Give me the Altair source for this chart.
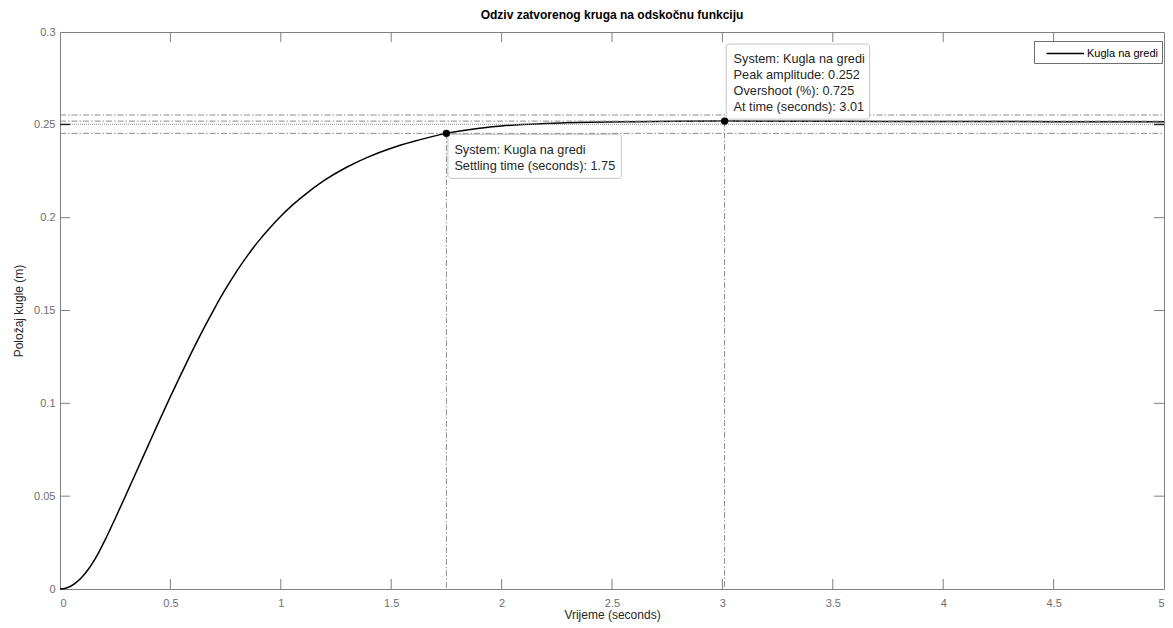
import altair as alt
import pandas as pd

# ---------------- data ----------------
time_s = [0, 0.025, 0.05, 0.075, 0.1, 0.125, 0.15, 0.175, 0.2, 0.25, 0.3, 0.35, 0.4,
          0.45, 0.5, 0.55, 0.6, 0.65, 0.7, 0.75, 0.8, 0.85, 0.9, 0.95, 1.0, 1.05, 1.1,
          1.2, 1.3, 1.4, 1.5, 1.6, 1.75, 1.9, 2.0, 2.2, 2.4, 2.6, 2.8, 3.01, 3.5, 4.0,
          4.5, 5.0]
position_m = [0, 0.0004, 0.0016, 0.0037, 0.0065, 0.0101, 0.0145, 0.0196, 0.0254,
              0.0380, 0.0510, 0.0642, 0.0775, 0.0907, 0.1036, 0.1161, 0.1284, 0.1401,
              0.1512, 0.1616, 0.1711, 0.1797, 0.1875, 0.1945, 0.2008, 0.2065, 0.2115,
              0.2203, 0.2273, 0.2329, 0.2374, 0.2410, 0.2454, 0.2482, 0.2494, 0.2507,
              0.2514, 0.2517, 0.2519, 0.2520, 0.2519, 0.2518, 0.2517, 0.2516]
series_name = "Kugla na gredi"

settling_time = 1.75
settling_value = 0.2454
peak_time = 3.01
peak_value = 0.2520
final_value = 0.2503
upper_bound = 0.2553
lower_bound = 0.2454

x_min, x_max = 0, 5
y_min, y_max = 0, 0.3
x_ticks = [0.5, 1, 1.5, 2, 2.5, 3, 3.5, 4, 4.5]
y_ticks = [0.05, 0.1, 0.15, 0.2, 0.25]
x_axis_values = [0, 0.5, 1, 1.5, 2, 2.5, 3, 3.5, 4, 4.5, 5]
y_axis_values = [0, 0.05, 0.1, 0.15, 0.2, 0.25, 0.3]

tip_settling = ["System: Kugla na gredi", "Settling time (seconds): 1.75"]
tip_peak = ["System: Kugla na gredi", "Peak amplitude: 0.252",
            "Overshoot (%): 0.725", "At time (seconds): 3.01"]

title_text = "Odziv zatvorenog kruga na odskočnu funkciju"
x_title = "Vrijeme (seconds)"
y_title = "Položaj kugle (m)"

# ---------------- tables ----------------
curve = pd.DataFrame({"t": time_s, "v": position_m, "series": series_name})
hlines = pd.DataFrame({"t": [x_min] * 3, "t2": [x_max] * 3,
                       "v": [upper_bound, peak_value, lower_bound]})
fline = pd.DataFrame({"t": [x_min], "t2": [x_max], "v": [final_value]})
vlines = pd.DataFrame({"t": [settling_time, peak_time], "v": [settling_value, peak_value],
                       "v2": [y_min, y_min]})
ss_l = pd.DataFrame({"t": [x_min], "v": [final_value]})
ss_r = pd.DataFrame({"t": [x_max], "v": [final_value]})
tip1 = pd.DataFrame({"t": [settling_time], "v": [settling_value], "label": ["\n".join(tip_settling)]})
tip2 = pd.DataFrame({"t": [peak_time], "v": [peak_value], "label": ["\n".join(tip_peak)]})
xt_b = pd.DataFrame({"t": x_ticks, "v": [y_min] * len(x_ticks)})
xt_t = pd.DataFrame({"t": x_ticks, "v": [y_max] * len(x_ticks)})
yt_l = pd.DataFrame({"t": [x_min] * len(y_ticks), "v": y_ticks})
yt_r = pd.DataFrame({"t": [x_max] * len(y_ticks), "v": y_ticks})

FONT = "Liberation Sans"
GRAY = "#8c8c8c"
AX = "#808080"
DASHDOT = [6, 2, 1.5, 2]
xs = alt.Scale(domain=[x_min, x_max], nice=False, zero=False)
ys = alt.Scale(domain=[y_min, y_max], nice=False, zero=False)
x_axis = alt.Axis(values=x_axis_values, format=".1~f", ticks=False, domain=False,
                  grid=False, labelPadding=8, titlePadding=1)
y_axis = alt.Axis(values=y_axis_values, format=".2~f", ticks=False, domain=False,
                  grid=False, labelPadding=5, titlePadding=8)


def X(f="t"):
    return alt.X(f"{f}:Q", scale=xs, axis=x_axis, title=x_title)


def Y(f="v"):
    return alt.Y(f"{f}:Q", scale=ys, axis=y_axis, title=y_title)


main = alt.Chart(curve).mark_line(strokeWidth=1.5, interpolate="monotone").encode(
    x=X(), y=Y(),
    color=alt.Color("series:N", scale=alt.Scale(domain=[series_name], range=["#000000"]),
                    legend=alt.Legend(title=None, orient="none", legendX=974, legendY=9,
                                      symbolType="M0,0H5", symbolSize=225,
                                      symbolStrokeWidth=1.3, labelFontSize=11,
                                      labelColor="#000000", labelFont=FONT,
                                      strokeColor="#6e6e6e", fillColor="#ffffff",
                                      padding=4, labelOffset=32, offset=0)),
)

h_dash = alt.Chart(hlines).mark_rule(color=GRAY, strokeWidth=1, strokeDash=DASHDOT).encode(
    x=X(), x2="t2:Q", y=Y())
h_dot = alt.Chart(fline).mark_rule(color=GRAY, strokeWidth=1, strokeDash=[1, 1]).encode(
    x=X(), x2="t2:Q", y=Y())
v_dash = alt.Chart(vlines).mark_rule(color=GRAY, strokeWidth=1, strokeDash=DASHDOT).encode(
    x=X(), y=Y(), y2="v2:Q")
ss_left = alt.Chart(ss_l).mark_rule(color="#000000", strokeWidth=1, x2Offset=10).encode(
    x=X(), x2="t:Q", y=Y())
ss_right = alt.Chart(ss_r).mark_rule(color="#000000", strokeWidth=1, x2Offset=-10).encode(
    x=X(), x2="t:Q", y=Y())

box1 = alt.Chart(tip1).mark_rect(fill="#ffffff", fillOpacity=0.95, stroke="#c4c4c4", strokeWidth=1,
                                 cornerRadius=3, xOffset=1.5, x2Offset=175, yOffset=1, y2Offset=45).encode(
    x=X(), x2="t:Q", y=Y(), y2="v:Q")
box2 = alt.Chart(tip2).mark_rect(fill="#ffffff", fillOpacity=0.95, stroke="#c4c4c4", strokeWidth=1,
                                 cornerRadius=3, xOffset=1.6, x2Offset=145, yOffset=-2, y2Offset=-77).encode(
    x=X(), x2="t:Q", y=Y(), y2="v:Q")
txt1 = alt.Chart(tip1).mark_text(align="left", baseline="middle", lineBreak="\n", lineHeight=15.6,
                                 font=FONT, fontSize=12.7, color="#262626", dx=8, dy=16.6).encode(
    x=X(), y=Y(), text="label:N")
txt2 = alt.Chart(tip2).mark_text(align="left", baseline="middle", lineBreak="\n", lineHeight=15.8,
                                 font=FONT, fontSize=12.7, color="#262626", dx=9, dy=-62).encode(
    x=X(), y=Y(), text="label:N")
dots = alt.Chart(vlines).mark_circle(size=55, color="#000000", opacity=1).encode(x=X(), y=Y())

tb = alt.Chart(xt_b).mark_rule(color=AX, y2Offset=-10).encode(x=X(), y=Y(), y2="v:Q")
tt = alt.Chart(xt_t).mark_rule(color=AX, y2Offset=10).encode(x=X(), y=Y(), y2="v:Q")
tl = alt.Chart(yt_l).mark_rule(color=AX, x2Offset=10).encode(y=Y(), x=X(), x2="t:Q")
tr = alt.Chart(yt_r).mark_rule(color=AX, x2Offset=-10).encode(y=Y(), x=X(), x2="t:Q")

chart = alt.layer(
    main, tb, tt, tl, tr, h_dash, h_dot, v_dash, ss_left, ss_right, box1, box2, txt1, txt2, dots
).properties(
    width=1104, height=557,
    title=alt.Title(title_text, font=FONT, fontSize=12, fontWeight="bold", color="#000000",
                    anchor="middle", offset=4),
    autosize=alt.AutoSizeParams(type="none"),
    padding={"left": 52, "top": 24, "right": 1, "bottom": 36},
).configure_view(
    stroke=AX, strokeWidth=1
).configure_axis(
    labelFont=FONT, labelFontSize=11, labelColor="#6e6e6e",
    titleFont=FONT, titleFontSize=12, titleColor="#262626", titleFontWeight="normal",
)

chart.save("out.html", embed_options={"renderer": "svg", "actions": False})
